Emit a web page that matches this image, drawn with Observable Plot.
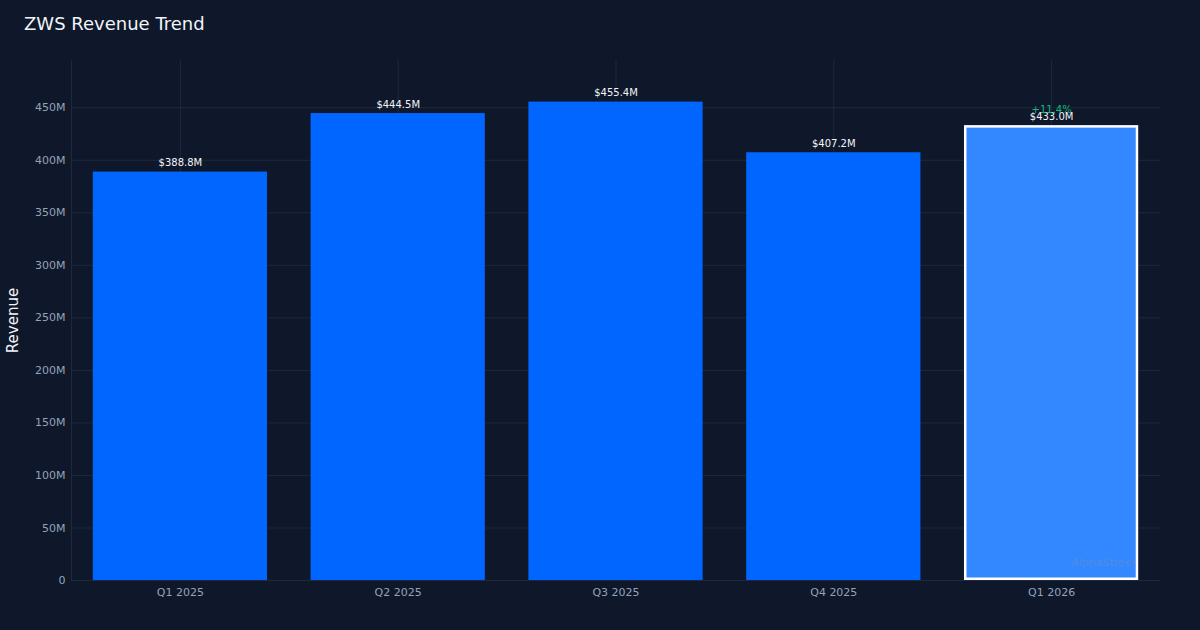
<!DOCTYPE html>
<html>
<head>
<meta charset="utf-8">
<script src="https://cdn.jsdelivr.net/npm/d3@7"></script>
<script src="https://cdn.jsdelivr.net/npm/@observablehq/plot@0.6"></script>
<style>
  html, body { margin: 0; padding: 0; background: #0f172a; }
  #wrap { position: relative; width: 1200px; height: 630px; overflow: hidden; background: #0f172a; }
  #title { position: absolute; left: 24px; top: 13px; font-family: "DejaVu Sans", sans-serif; font-size: 18px; color: #f1f5f9; }
  #chart svg { display: block; }
</style>
</head>
<body>
<div id="wrap">
  <div id="chart"></div>
  <div id="title">ZWS Revenue Trend</div>
</div>
<script>
const quarters = ["Q1 2025", "Q2 2025", "Q3 2025", "Q4 2025", "Q1 2026"];
const revenue = [388.8, 444.5, 455.4, 407.2, 433.0];
const highlight = [false, false, false, false, true];
const growthLabel = "+11.4%";
const yTicks = [0, 50, 100, 150, 200, 250, 300, 350, 400, 450];

const data = quarters.map((q, i) => ({ q, v: revenue[i], hi: highlight[i], label: `$${revenue[i].toFixed(1)}M` }));
const last = data[data.length - 1];

const chart = Plot.plot({
  width: 1200,
  height: 630,
  marginLeft: 71,
  marginRight: 40,
  marginTop: 60,
  marginBottom: 50,
  style: { background: "#0f172a", color: "#94a3b8", fontFamily: "DejaVu Sans, sans-serif", fontSize: "11px" },
  x: { domain: quarters, paddingInner: 0.2, paddingOuter: 0.1, round: false, label: null, tickSize: 0, tickPadding: 8 },
  y: { domain: [0, 495], ticks: yTicks, tickFormat: d => d === 0 ? "0" : `${d}M`, label: null, tickSize: 0, tickPadding: 6 },
  marks: [
    Plot.gridY(yTicks, { stroke: "#1e293b", strokeOpacity: 1, strokeWidth: 1 }),
    Plot.gridX(quarters, { stroke: "#1e293b", strokeOpacity: 1, strokeWidth: 1, y1: 0, y2: 495 }),
    Plot.ruleY([0], { stroke: "#1e293b" }),
    Plot.ruleX([quarters[0]], { dx: -108.9, stroke: "#1e293b", y1: 0, y2: 495 }),
    Plot.barY(data.filter(d => !d.hi), { x: "q", y: "v", fill: "#0066ff" }),
    Plot.barY(data.filter(d => d.hi), { x: "q", y: "v", fill: "#3388ff", stroke: "#ffffff", strokeWidth: 2.5, inset: 1.25 }),
    Plot.text(data, { x: "q", y: "v", text: "label", dy: -9, fill: "#f1f5f9", fontSize: 10 }),
    Plot.text([last], { x: "q", y: "v", text: () => growthLabel, dy: -16, fill: "#10b981", fontSize: 10 }),
    Plot.text([last], { x: "q", y: () => 0, text: () => "AlphaStreet", dx: 52, dy: -18, fill: "#5a8fd6", fillOpacity: 0.7, fontSize: 11 }),
    Plot.text(["Revenue"], { frameAnchor: "left", textAnchor: "middle", dx: -58, rotate: -90, fill: "#f1f5f9", fontSize: 15 })
  ]
});
document.getElementById("chart").appendChild(chart);
</script>
</body>
</html>
